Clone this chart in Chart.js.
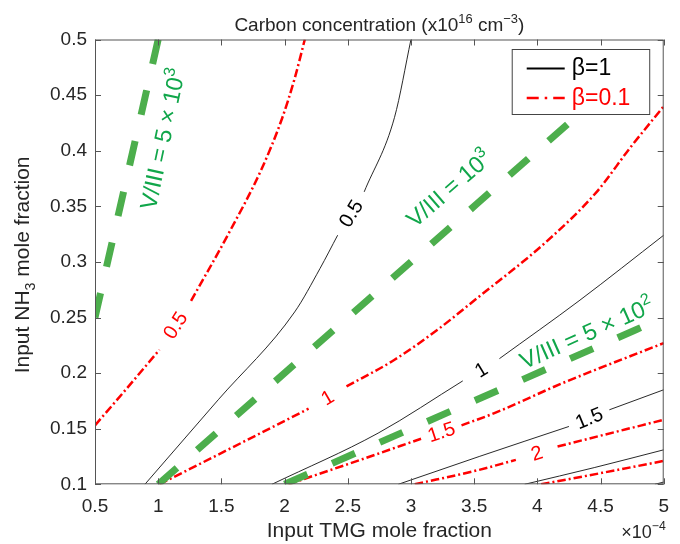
<!DOCTYPE html>
<html>
<head>
<meta charset="utf-8">
<script src="https://cdn.jsdelivr.net/npm/chart.js@4.4.0/dist/chart.umd.min.js"></script>
<style>
  html, body { margin: 0; padding: 0; background: #fff; }
</style>
</head>
<body>
<canvas id="carbonChart" width="680" height="544"></canvas>
<script>
// axes (TMG in units of 1e-4)
const tmgTicks = [0.5, 1, 1.5, 2, 2.5, 3, 3.5, 4, 4.5, 5];
const tmgTickLabels = ['0.5', '1', '1.5', '2', '2.5', '3', '3.5', '4', '4.5', '5'];
const nh3Ticks = [0.1, 0.15, 0.2, 0.25, 0.3, 0.35, 0.4, 0.45, 0.5];
const nh3TickLabels = ['0.1', '0.15', '0.2', '0.25', '0.3', '0.35', '0.4', '0.45', '0.5'];

// beta = 1 contours (black). null = gap where the level label sits
const b1_05_tmg = [0.895, 1.475, 2.08, 2.28, 2.42, null, 2.63, 2.87, 3.0];
const b1_05_nh3 = [0.1, 0.176, 0.255, 0.294, 0.324, null, 0.363, 0.43, 0.5];
const b1_10_tmg = [1.9, 2.74, 3.41, null, 3.70, 4.33, 5.0];
const b1_10_nh3 = [0.1, 0.146, 0.193, null, 0.213, 0.265, 0.324];
const b1_15_tmg = [2.9, 3.54, 4.25, null, 4.57, 5.0];
const b1_15_nh3 = [0.1, 0.125, 0.152, null, 0.167, 0.185];
const b1_20_tmg = [3.9, 4.45, 5.0];
const b1_20_nh3 = [0.1, 0.115, 0.131];
const b1_25_tmg = [4.93, 5.0];
const b1_25_nh3 = [0.1, 0.102];

// beta = 0.1 contours (red dash-dot)
const b01_05_tmg = [0.5, 0.75, 1.01, null, 1.26, 1.55, 1.82, 1.98, 2.08, 2.16];
const b01_05_nh3 = [0.153, 0.186, 0.221, null, 0.265, 0.324, 0.384, 0.429, 0.465, 0.5];
const b01_10_tmg = [1.01, 1.55, 2.19, null, 2.49, 2.87, 3.21, 3.53, 4.07, 4.47, 4.73, 5.0];
const b01_10_nh3 = [0.1, 0.131, 0.168, null, 0.188, 0.212, 0.239, 0.268, 0.318, 0.363, 0.402, 0.44];
const b01_15_tmg = [2.03, 2.6, 3.08, null, 3.40, 3.66, 4.2, 5.0];
const b01_15_nh3 = [0.1, 0.122, 0.141, null, 0.153, 0.164, 0.191, 0.227];
const b01_20_tmg = [3.03, 3.54, 3.83, null, 4.16, 5.0];
const b01_20_nh3 = [0.1, 0.113, 0.122, null, 0.134, 0.158];
const b01_25_tmg = [4.03, 4.5, 5.0];
const b01_25_nh3 = [0.1, 0.11, 0.121];

// constant V/III lines (green)
const v5000_tmg = [0.5, 1.0];
const v5000_nh3 = [0.25, 0.5];
const v1000_tmg = [1.0, 4.24];
const v1000_nh3 = [0.1, 0.424];
const v500_tmg = [2.0, 5.0];
const v500_nh3 = [0.1, 0.25];

const FONT = "'Liberation Sans', Arial, sans-serif";
const RED = '#ff0000';
const GREEN = '#4cae4c';
const GREEN_TEXT = '#10a64a';

function pts(xs, ys) {
  return xs.map((v, i) => ({ x: v, y: ys[i] }));
}

const blackLines = [
  ['0.5', b1_05_tmg, b1_05_nh3], ['1', b1_10_tmg, b1_10_nh3], ['1.5', b1_15_tmg, b1_15_nh3],
  ['2', b1_20_tmg, b1_20_nh3], ['2.5', b1_25_tmg, b1_25_nh3]
];
const redLines = [
  ['0.5', b01_05_tmg, b01_05_nh3], ['1', b01_10_tmg, b01_10_nh3], ['1.5', b01_15_tmg, b01_15_nh3],
  ['2', b01_20_tmg, b01_20_nh3], ['2.5', b01_25_tmg, b01_25_nh3]
];
const greenLines = [[v5000_tmg, v5000_nh3], [v1000_tmg, v1000_nh3], [v500_tmg, v500_nh3]];

const datasets = [];
greenLines.forEach(g => datasets.push({
  data: pts(g[0], g[1]), borderColor: GREEN, borderWidth: 7, borderDash: [25, 27],
  borderCapStyle: 'butt', order: 0
}));
redLines.forEach(c => datasets.push({
  data: pts(c[1], c[2]), borderColor: RED, borderWidth: 2.5, borderDash: [8.5, 3, 2, 3],
  order: 1
}));
blackLines.forEach(c => datasets.push({
  data: pts(c[1], c[2]), borderColor: '#111', borderWidth: 0.9, order: 2
}));
datasets.forEach(d => {
  d.showLine = true; d.pointRadius = 0; d.fill = false; d.spanGaps = false;
  d.cubicInterpolationMode = 'monotone';
});

// text with super/subscripts: parts = [[text, 'sup'|'sub'|null], ...]
function richText(ctx, parts, size, x, y, align) {
  const w = parts.map(p => {
    ctx.font = (p[1] ? size * 0.68 : size) + 'px ' + FONT;
    return ctx.measureText(p[0]).width;
  });
  const total = w.reduce((a, b) => a + b, 0);
  let cx = align === 'center' ? x - total / 2 : (align === 'right' ? x - total : x);
  ctx.textAlign = 'left';
  ctx.textBaseline = 'alphabetic';
  parts.forEach((p, i) => {
    ctx.font = (p[1] ? size * 0.68 : size) + 'px ' + FONT;
    const dy = p[1] === 'sup' ? -size * 0.42 : (p[1] === 'sub' ? size * 0.28 : 0);
    ctx.fillText(p[0], cx, y + dy);
    cx += w[i];
  });
}

const greenLabels = [
  { parts: [['V/III = 5 \u00d7 10'], ['3', 'sup']], at: [1.034, 0.4105], angle: -78 },
  { parts: [['V/III = 10'], ['3', 'sup']], at: [3.30, 0.366], angle: -41 },
  { parts: [['V/III = 5 \u00d7 10'], ['2', 'sup']], at: [4.39, 0.236], angle: -24 }
];

const decorations = {
  id: 'decorations',
  afterDatasetsDraw(chart) {
    const { ctx, chartArea: a, scales: { x, y } } = chart;
    ctx.save();
    // contour level labels, placed in the gap of each line
    const lab = (list, color) => list.forEach(c => {
      const i = c[1].indexOf(null);
      if (i < 0) return;
      const x0 = x.getPixelForValue(c[1][i - 1]), y0 = y.getPixelForValue(c[2][i - 1]);
      const x1 = x.getPixelForValue(c[1][i + 1]), y1 = y.getPixelForValue(c[2][i + 1]);
      ctx.save();
      ctx.translate((x0 + x1) / 2, (y0 + y1) / 2);
      ctx.rotate(Math.atan2(y1 - y0, x1 - x0));
      ctx.fillStyle = color;
      ctx.font = '20px ' + FONT;
      ctx.textAlign = 'center';
      ctx.textBaseline = 'middle';
      ctx.fillText(c[0], 0, 1);
      ctx.restore();
    });
    lab(blackLines, '#000');
    lab(redLines, RED);

    // V/III labels
    greenLabels.forEach(g => {
      ctx.save();
      ctx.translate(x.getPixelForValue(g.at[0]), y.getPixelForValue(g.at[1]));
      ctx.rotate(g.angle * Math.PI / 180);
      ctx.fillStyle = GREEN_TEXT;
      richText(ctx, g.parts, 23.5, 0, 8, 'center');
      ctx.restore();
    });

    // legend box
    const lx = a.right - 152, ly = a.top + 9.5, lw = 137.5, lh = 65;
    ctx.fillStyle = '#fff';
    ctx.fillRect(lx, ly, lw, lh);
    ctx.strokeStyle = '#444';
    ctx.lineWidth = 1;
    ctx.strokeRect(lx + 0.5, ly + 0.5, lw, lh);
    ctx.lineWidth = 2;
    ctx.strokeStyle = '#000';
    ctx.beginPath(); ctx.moveTo(lx + 15, ly + 19.5); ctx.lineTo(lx + 53, ly + 19.5); ctx.stroke();
    ctx.strokeStyle = RED;
    ctx.lineWidth = 2.5;
    ctx.setLineDash([12, 6, 2.5, 6]);
    ctx.beginPath(); ctx.moveTo(lx + 15, ly + 49); ctx.lineTo(lx + 53, ly + 49); ctx.stroke();
    ctx.setLineDash([]);
    ctx.font = '23px ' + FONT;
    ctx.textAlign = 'left';
    ctx.textBaseline = 'middle';
    ctx.fillStyle = '#000';
    ctx.fillText('\u03b2=1', lx + 60, ly + 20);
    ctx.fillStyle = RED;
    ctx.fillText('\u03b2=0.1', lx + 60, ly + 49.5);
    ctx.restore();
  },
  afterDraw(chart) {
    const { ctx, chartArea: a, scales: { x, y } } = chart;
    ctx.save();
    // box and inward ticks on all four sides
    ctx.strokeStyle = '#555';
    ctx.lineWidth = 1;
    ctx.strokeRect(a.left + 0.5, a.top + 0.5, a.right - a.left - 1, a.bottom - a.top - 1);
    ctx.beginPath();
    tmgTicks.forEach(v => {
      const px = Math.round(x.getPixelForValue(v)) + 0.5;
      ctx.moveTo(px, a.bottom); ctx.lineTo(px, a.bottom - 6);
      ctx.moveTo(px, a.top); ctx.lineTo(px, a.top + 6);
    });
    nh3Ticks.forEach(v => {
      const py = Math.round(y.getPixelForValue(v)) + 0.5;
      ctx.moveTo(a.left, py); ctx.lineTo(a.left + 6, py);
      ctx.moveTo(a.right, py); ctx.lineTo(a.right - 6, py);
    });
    ctx.stroke();

    ctx.fillStyle = '#262626';
    const cx = (a.left + a.right) / 2;
    richText(ctx, [['Carbon concentration (x10'], ['16', 'sup'], [' cm'], ['\u22123', 'sup'], [')']], 19, cx, 31, 'center');
    richText(ctx, [['Input TMG mole fraction']], 21, cx, 537, 'center');
    richText(ctx, [['\u00d710'], ['\u22124', 'sup']], 18, a.right + 2, 538, 'right');
    ctx.save();
    ctx.translate(29, (a.top + a.bottom) / 2 + 3);
    ctx.rotate(-Math.PI / 2);
    richText(ctx, [['Input NH'], ['3', 'sub'], [' mole fraction']], 21, 0, 0, 'center');
    ctx.restore();
    ctx.restore();
  }
};

new Chart(document.getElementById('carbonChart').getContext('2d'), {
  type: 'scatter',
  data: { datasets: datasets },
  options: {
    responsive: false,
    animation: false,
    layout: { padding: { top: 39.5, right: 16, left: 0, bottom: 0 } },
    plugins: { legend: { display: false }, title: { display: false }, tooltip: { enabled: false } },
    scales: {
      x: {
        type: 'linear', min: 0.5, max: 5,
        afterBuildTicks: s => { s.ticks = tmgTicks.map(v => ({ value: v })); },
        afterFit: s => { s.height = 59.7; },
        grid: { display: false, drawTicks: false },
        border: { display: false },
        ticks: {
          padding: 11, color: '#262626', font: { family: FONT, size: 19 },
          maxRotation: 0, autoSkip: false,
          callback: (v, i) => tmgTickLabels[i]
        }
      },
      y: {
        type: 'linear', min: 0.1, max: 0.5,
        afterBuildTicks: s => { s.ticks = nh3Ticks.map(v => ({ value: v })); },
        afterFit: s => { s.width = 95; },
        grid: { display: false, drawTicks: false },
        border: { display: false },
        ticks: {
          padding: 8, color: '#262626', font: { family: FONT, size: 19 },
          autoSkip: false,
          callback: (v, i) => nh3TickLabels[i]
        }
      }
    }
  },
  plugins: [decorations]
});
</script>
</body>
</html>
